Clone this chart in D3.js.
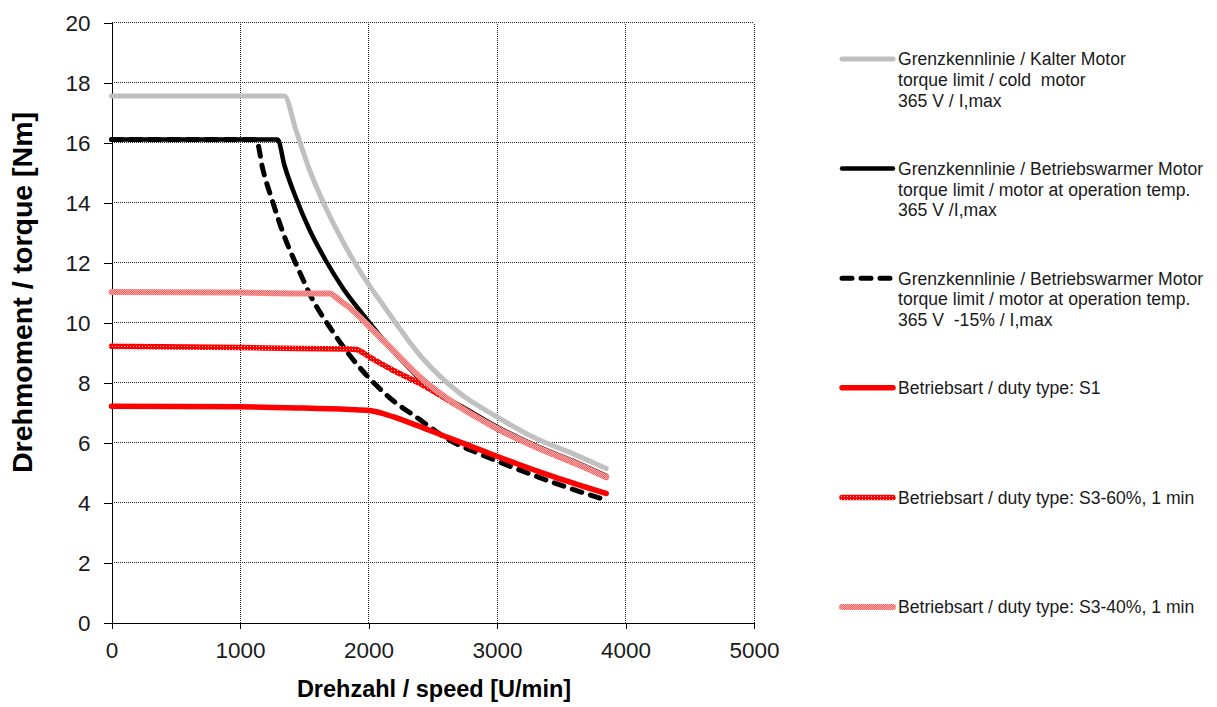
<!DOCTYPE html>
<html>
<head>
<meta charset="utf-8">
<script src="https://cdn.jsdelivr.net/npm/d3@7"></script>
<style>
  html, body { margin: 0; padding: 0; background: #fff; }
  svg { display: block; font-family: "Liberation Sans", Arial, sans-serif; }
</style>
</head>
<body>
<svg id="chart" width="1217" height="707"></svg>
<script>
// Speed axis [U/min] and torque axis [Nm] ticks
const speedTicks = [0, 1000, 2000, 3000, 4000, 5000];
const torqueTicks = [0, 2, 4, 6, 8, 10, 12, 14, 16, 18, 20];

// Torque limit, cold motor, 365 V / I,max
const speedCold  = [0, 1345, 1436, 1540, 1670, 1800, 1950, 2111, 2422, 2708, 3001, 3305, 3617, 3850];
const torqueCold = [17.55, 17.55, 16.4, 15.1, 13.8, 12.7, 11.6, 10.6, 8.8, 7.65, 6.85, 6.13, 5.58, 5.13];

// Torque limit, motor at operating temperature, 365 V / I,max
const speedWarm  = [0, 1293, 1345, 1436, 1540, 1670, 1800, 1950, 2100, 2300, 2474, 2708, 3001, 3305, 3617, 3850];
const torqueWarm = [16.1, 16.1, 15.25, 14.15, 13.1, 12.05, 11.15, 10.3, 9.5, 8.55, 7.8, 7.24, 6.52, 5.89, 5.34, 4.89];

// Torque limit, motor at operating temperature, 365 V -15% / I,max
const speedWarmLow  = [0, 1125, 1178, 1256, 1334, 1462, 1568, 1698, 1828, 1983, 2111, 2190, 2371, 2630, 2890, 3149, 3461, 3850];
const torqueWarmLow = [16.1, 16.1, 15.1, 14.0, 13.0, 11.7, 10.74, 9.85, 9.05, 8.25, 7.7, 7.4, 6.85, 6.08, 5.58, 5.13, 4.63, 4.08];

// Duty type S1
const speedS1  = [0, 1000, 1462, 1851, 2007, 2100, 2190, 2371, 2630, 2890, 3149, 3461, 3850];
const torqueS1 = [7.21, 7.19, 7.15, 7.1, 7.07, 6.98, 6.86, 6.58, 6.15, 5.72, 5.3, 4.83, 4.3];

// Duty type S3-60%, 1 min
const speedS360  = [0, 1000, 1462, 1851, 1905, 2007, 2190, 2397, 2708, 3001, 3305, 3617, 3850];
const torqueS360 = [9.21, 9.17, 9.13, 9.12, 9.1, 8.85, 8.41, 7.97, 7.19, 6.46, 5.84, 5.29, 4.84];

// Duty type S3-40%, 1 min
const speedS340  = [0, 1000, 1462, 1698, 1775, 1851, 1931, 2035, 2190, 2397, 2708, 3001, 3305, 3617, 3850];
const torqueS340 = [11.02, 11.0, 10.97, 10.97, 10.74, 10.5, 10.19, 9.74, 9.08, 8.19, 7.19, 6.47, 5.85, 5.3, 4.85];

// Legend texts (one array per entry, one string per line)
const legendCold    = ["Grenzkennlinie / Kalter Motor", "torque limit / cold  motor", "365 V / I,max"];
const legendWarm    = ["Grenzkennlinie / Betriebswarmer Motor", "torque limit / motor at operation temp.", "365 V /I,max"];
const legendWarmLow = ["Grenzkennlinie / Betriebswarmer Motor", "torque limit / motor at operation temp.", "365 V  -15% / I,max"];
const legendS1      = ["Betriebsart / duty type: S1"];
const legendS360    = ["Betriebsart / duty type: S3-60%, 1 min"];
const legendS340    = ["Betriebsart / duty type: S3-40%, 1 min"];

const xTitle = "Drehzahl / speed [U/min]";
const yTitle = "Drehmoment / torque [Nm]";

// ---------------------------------------------------------------------------
const svg = d3.select("#chart");
const x = d3.scaleLinear().domain([0, 5000]).range([111.5, 754]);
const y = d3.scaleLinear().domain([0, 20]).range([622.5, 22.5]);

// Stroke textures for the S3 curves
const defs = svg.append("defs");
const p60 = defs.append("pattern").attr("id", "texS360")
  .attr("patternUnits", "userSpaceOnUse").attr("width", 3).attr("height", 3);
p60.append("rect").attr("width", 3).attr("height", 3).attr("fill", "#ff0000");
p60.append("rect").attr("x", 1).attr("y", 1).attr("width", 1).attr("height", 1).attr("fill", "#ffc8c8");

const p40 = defs.append("pattern").attr("id", "texS340")
  .attr("patternUnits", "userSpaceOnUse").attr("width", 2).attr("height", 2);
p40.append("rect").attr("width", 2).attr("height", 2).attr("fill", "#f46464");
p40.append("rect").attr("x", 0).attr("y", 0).attr("width", 1).attr("height", 1).attr("fill", "#ffa8a8");
p40.append("rect").attr("x", 1).attr("y", 1).attr("width", 1).attr("height", 1).attr("fill", "#ffa8a8");

// Grid
const grid = svg.append("g").attr("shape-rendering", "crispEdges");
grid.selectAll(".hg").data(torqueTicks.filter(d => d > 0)).join("line")
  .attr("x1", x(0)).attr("x2", x(5000))
  .attr("y1", d => y(d)).attr("y2", d => y(d))
  .attr("stroke", "#222").attr("stroke-width", 1).attr("stroke-dasharray", "1,1");
grid.selectAll(".vg").data(speedTicks.filter(d => d > 0)).join("line")
  .attr("y1", y(0)).attr("y2", y(20))
  .attr("x1", d => x(d)).attr("x2", d => x(d))
  .attr("stroke", "#222").attr("stroke-width", 1).attr("stroke-dasharray", "1,1");

// Axes
const yAxis = svg.append("g").attr("transform", `translate(${x(0)},0)`)
  .call(d3.axisLeft(y).tickValues(torqueTicks).tickFormat(d3.format("d"))
    .tickSize(8).tickSizeOuter(0).tickPadding(13));
const xAxis = svg.append("g").attr("transform", `translate(0,${y(0)})`)
  .call(d3.axisBottom(x).tickValues(speedTicks).tickFormat(d3.format("d"))
    .tickSize(6).tickSizeOuter(0));
[yAxis, xAxis].forEach(a => {
  a.attr("shape-rendering", "crispEdges");
  a.select(".domain").attr("stroke", "#000");
  a.selectAll(".tick line").attr("stroke", "#000");
  a.selectAll(".tick text").attr("font-size", "22.5px").attr("fill", "#1a1a1a")
    .attr("font-family", "Liberation Sans, Arial, sans-serif");
});
yAxis.selectAll(".tick text").attr("dy", "0.358em");
xAxis.selectAll(".tick text").attr("y", 35.8).attr("dy", 0);

// Axis titles
svg.append("text").attr("x", 434).attr("y", 697).attr("text-anchor", "middle")
  .attr("font-weight", "bold").attr("font-size", "23.5px").attr("fill", "#000").text(xTitle);
svg.append("text").attr("transform", "translate(31.5,292.5) rotate(-90)").attr("text-anchor", "middle")
  .attr("font-weight", "bold").attr("font-size", "28.5px").attr("fill", "#000").text(yTitle);

// Curves
const series = [
  { sx: speedCold,    ty: torqueCold,    stroke: "#c0c0c0",        width: 5,   dash: null,   legend: legendCold },
  { sx: speedWarm,    ty: torqueWarm,    stroke: "#000000",        width: 4.5, dash: null,   legend: legendWarm },
  { sx: speedWarmLow, ty: torqueWarmLow, stroke: "#000000",        width: 5,   dash: "10,9", legend: legendWarmLow },
  { sx: speedS1,      ty: torqueS1,      stroke: "#ff0000",        width: 5.5, dash: null,   legend: legendS1 },
  { sx: speedS360,    ty: torqueS360,    stroke: "url(#texS360)",  width: 5.5, dash: null,   legend: legendS360 },
  { sx: speedS340,    ty: torqueS340,    stroke: "url(#texS340)",  width: 6,   dash: null,   legend: legendS340 }
];

const line = d3.line().x(d => x(d[0])).y(d => y(d[1])).curve(d3.curveMonotoneX);
const curves = svg.append("g");
series.forEach(s => {
  const pts = s.sx.map((v, i) => [v, s.ty[i]]);
  curves.append("path").datum(pts).attr("d", line)
    .attr("fill", "none").attr("stroke", s.stroke).attr("stroke-width", s.width)
    .attr("stroke-linecap", "round").attr("stroke-linejoin", "round")
    .attr("stroke-dasharray", s.dash);
});

// Legend
const legY0 = 59, legStep = 109.6, lineGap = 20.7;
const leg = svg.append("g");
series.forEach((s, i) => {
  const cy = legY0 + i * legStep;
  leg.append("line").attr("x1", 842).attr("x2", 893).attr("y1", cy).attr("y2", cy)
    .attr("stroke", s.stroke).attr("stroke-width", s.width)
    .attr("stroke-linecap", "round").attr("stroke-dasharray", s.dash);
  s.legend.forEach((t, j) => {
    leg.append("text").attr("x", 898).attr("y", cy + j * lineGap).attr("dy", "0.36em")
      .attr("font-size", "17.6px").attr("fill", "#1a1a1a")
      .style("white-space", "pre").text(t);
  });
});
</script>
</body>
</html>
